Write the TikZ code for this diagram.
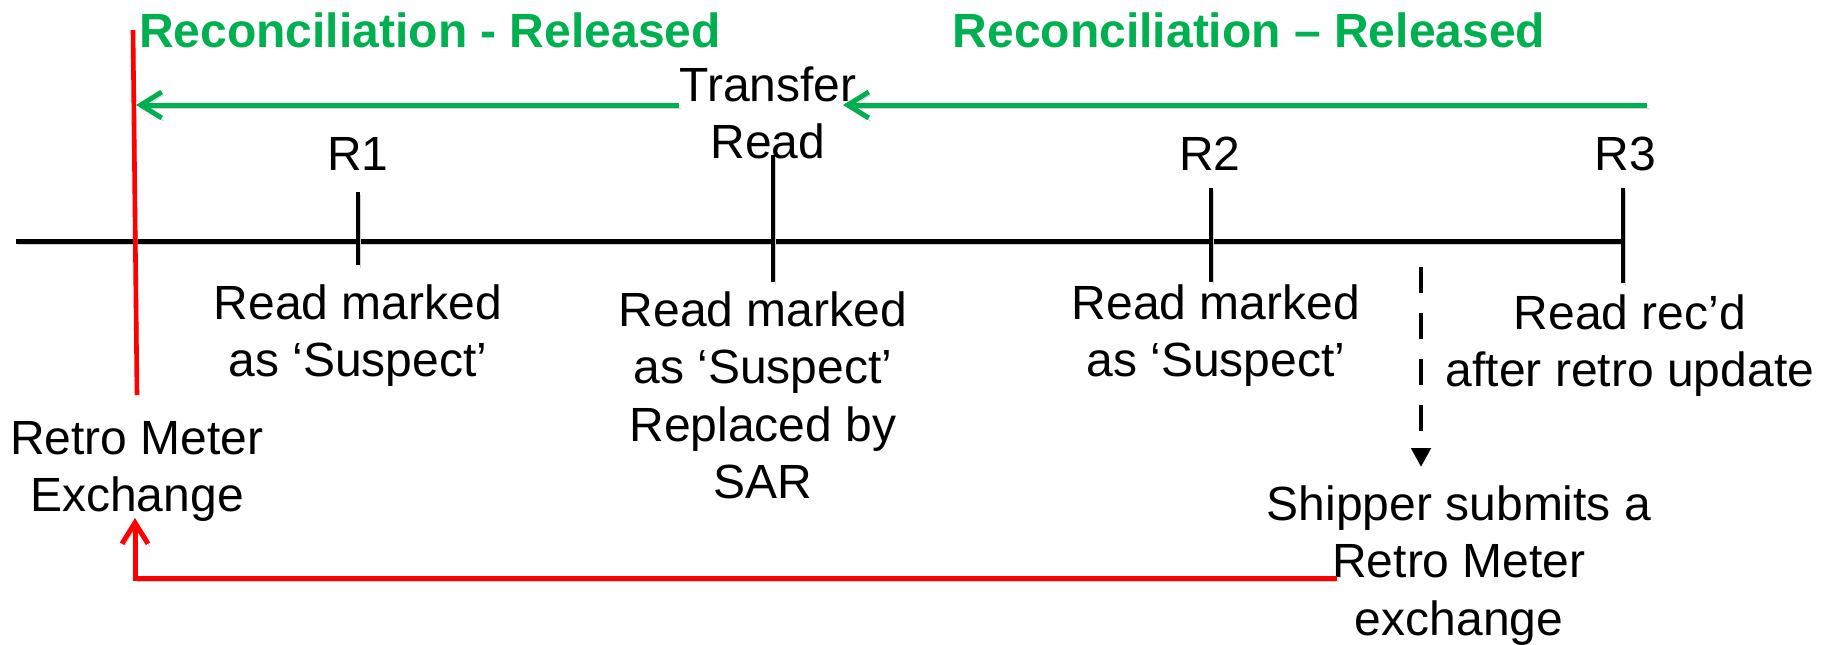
\documentclass[tikz,border=0pt]{standalone}
\usepackage{fontspec}
\setmainfont{Liberation Sans}
\usetikzlibrary{arrows.meta}
\definecolor{relgreen}{RGB}{0,176,80}
\definecolor{exred}{RGB}{255,0,0}
\begin{document}
\begin{tikzpicture}[x=0.5pt,y=-0.5pt,
  lbl/.style={inner sep=0pt, align=center, font=\fontsize{24}{28.75}\selectfont},
  ttl/.style={inner sep=0pt, text=relgreen, font=\fontsize{24}{28.75}\selectfont\bfseries},
  shade/.style={preaction={draw=black!18, transform canvas={shift={(1pt,-1.5pt)}}}},
  axisline/.style={line width=2.5pt, shade},
  tickline/.style={line width=2.4pt, shade},
  relarrow/.style={draw=relgreen, line width=2.5pt, shade, -{Straight Barb[length=10.5pt,width=13pt,line width=2.5pt]}},
  redline/.style={draw=exred, line width=2.3pt, shade},
  redarrow/.style={draw=exred, line width=2.5pt, shade, -{Straight Barb[length=10.5pt,width=13pt,line width=2.5pt]}},
  dasharrow/.style={line width=2.4pt, dash pattern=on 13pt off 10pt, -{Triangle[length=9.5pt,width=9.5pt]}}
]
\useasboundingbox (0,0) rectangle (1824,644);

% titles
\node[ttl, anchor=base] (t1) at (430,47) {Reconciliation - Released};
\node[ttl, anchor=base] (t2) at (1249,47) {Reconciliation -- Released};

% timeline
\coordinate (a0) at (16,241);
\coordinate (a1) at (1623,241);
\draw[axisline] (a0) -- (a1);

% ticks
\coordinate (r1t) at (358,192); \coordinate (r1b) at (358,265);
\coordinate (trt) at (773,155); \coordinate (trb) at (773,282);
\coordinate (r2t) at (1211,188); \coordinate (r2b) at (1211,282);
\coordinate (r3t) at (1623,188); \coordinate (r3b) at (1623,283);
\draw[tickline] (r1t) -- (r1b);
\draw[tickline] (trt) -- (trb);
\draw[tickline] (r2t) -- (r2b);
\draw[tickline] (r3t) -- (r3b);

% upper labels
\node[lbl, anchor=base] (R1) at (358,170) {R1};
\node[lbl, anchor=base] (R2) at (1210,170) {R2};
\node[lbl, anchor=base] (R3) at (1625,170) {R3};
\node[lbl, anchor=north] (TR) at (768,66) {Transfer\\Read};

% lower labels
\node[lbl, anchor=north] (L1) at (358,284) {Read marked\\as ‘Suspect’};
\node[lbl, anchor=north] (L2) at (763,291) {Read marked\\as ‘Suspect’\\Replaced by\\SAR};
\node[lbl, anchor=north] (L3) at (1216,284) {Read marked\\as ‘Suspect’};
\node[lbl, anchor=north] (L4) at (1630,294) {Read rec’d\\after retro update};
\node[lbl, anchor=north] (RME) at (137,421) {Retro Meter\\Exchange};
\node[lbl, anchor=north] (SH) at (1459,485) {Shipper submits a\\Retro Meter\\exchange};

% red retro line
\coordinate (rv0) at (133,30);
\coordinate (rv1) at (137,395);
\draw[redline] (rv0) -- (rv1);

% green arrows
\coordinate (g1s) at (679,105); \coordinate (g1e) at (136,105);
\coordinate (g2s) at (1647,105); \coordinate (g2e) at (843,105);
\draw[relarrow] (g1s) -- (g1e);
\draw[relarrow] (g2s) -- (g2e);

% dashed arrow
\coordinate (d0) at (1421,267); \coordinate (d1) at (1421,467);
\draw[dasharrow] (d0) -- (d1);

% red return arrow
\coordinate (e0) at (1337,578); \coordinate (e1) at (135,518);
\draw[redarrow] (e0) -| (e1);
\end{tikzpicture}
\end{document}
